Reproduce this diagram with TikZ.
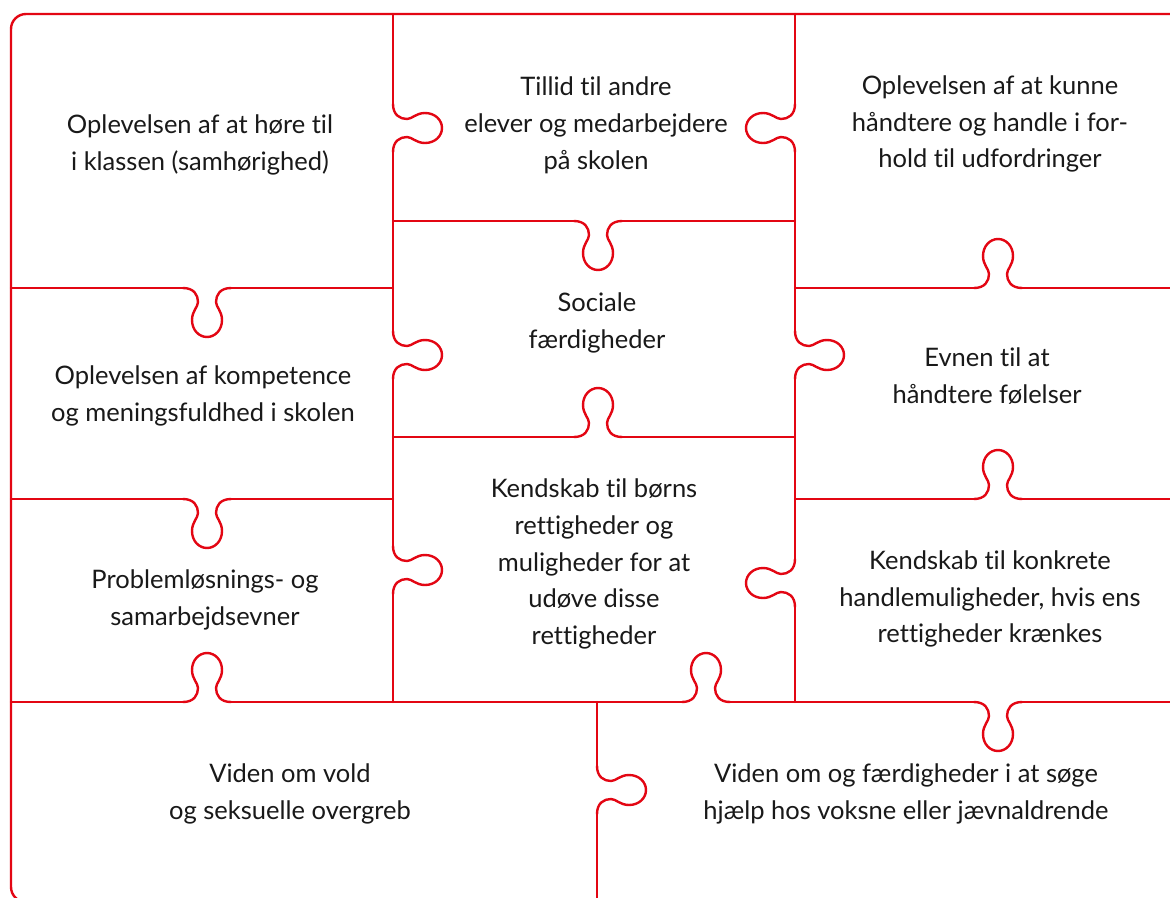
\documentclass[tikz,border=0pt]{standalone}
\usepackage{fontspec}
\setmainfont{Lato}[Ligatures={NoCommon,NoRequired}]
\definecolor{puzred}{RGB}{227,6,19}
\definecolor{txt}{RGB}{25,25,25}
\begin{document}
\begin{tikzpicture}[x=1pt,y=-1pt,
  puz/.style={draw=puzred,line width=2.4pt,line cap=round,line join=round},
  lbl/.style={align=center,text=txt,font=\fontsize{25.5}{36.8}\selectfont,inner sep=0pt},
  hknob/.pic={\draw[puz] (-24,0) .. controls (-13,0) and (-9,7) .. (-9,14) .. controls (-9,19) and (-15,23) .. (-15,32) .. controls (-15,42) and (-8,49) .. (0,49) .. controls (8,49) and (15,42) .. (15,32) .. controls (15,23) and (9,19) .. (9,14) .. controls (9,7) and (13,0) .. (24,0);},
  vknob/.pic={\draw[puz] (0,-24) .. controls (0,-13) and (7,-9) .. (14,-9) .. controls (19,-9) and (23,-15) .. (32,-15) .. controls (42,-15) and (49,-8) .. (49,0) .. controls (49,8) and (42,15) .. (32,15) .. controls (23,15) and (19,9) .. (14,9) .. controls (7,9) and (0,13) .. (0,24);}
]
\useasboundingbox (0,0) rectangle (1170,897);
\fill[white] (0,0) rectangle (1170,897);
% outer frame
\draw[puz,rounded corners=15pt] (11,14) rectangle (1200,902);
% vertical x=393
\draw[puz] (393,14) -- (393,104) (393,152) -- (393,331) (393,379) -- (393,546) (393,594) -- (393,702);
\pic at (393,128) {vknob};
\pic at (393,355) {vknob};
\pic at (393,570) {vknob};
% vertical x=795
\draw[puz] (795,14) -- (795,104) (795,152) -- (795,331) (795,379) -- (795,559) (795,607) -- (795,702);
\pic[xscale=-1] at (795,128) {vknob};
\pic at (795,355) {vknob};
\pic[xscale=-1] at (795,583) {vknob};
% vertical x=597 lower
\draw[puz] (597,702) -- (597,766) (597,814) -- (597,905);
\pic at (597,790) {vknob};
% horizontal y=221
\draw[puz] (393,221) -- (574,221) (622,221) -- (795,221);
\pic at (598,221) {hknob};
% y=437
\draw[puz] (393,437) -- (574,437) (622,437) -- (795,437);
\pic[yscale=-1] at (598,437) {hknob};
% y=288
\draw[puz] (11,288) -- (183,288) (231,288) -- (393,288);
\pic at (207,288) {hknob};
\draw[puz] (795,288) -- (974,288) (1022,288) -- (1200,288);
\pic[yscale=-1] at (998,288) {hknob};
% y=499
\draw[puz] (11,499) -- (183,499) (231,499) -- (393,499);
\pic at (207,499) {hknob};
\draw[puz] (795,499) -- (974,499) (1022,499) -- (1200,499);
\pic[yscale=-1] at (998,499) {hknob};
% y=702
\draw[puz] (11,702) -- (183,702) (231,702) -- (682,702) (730,702) -- (974,702) (1022,702) -- (1200,702);
\pic[yscale=-1] at (207,702) {hknob};
\pic[yscale=-1] at (706,702) {hknob};
\pic at (998,702) {hknob};
% texts
\node[lbl] (t1) at (200,145) {Oplevelsen af at høre til\\i klassen (samhørighed)};
\node[lbl] (t2) at (596,125) {Tillid til andre\\elever og medarbejdere\\på skolen};
\node[lbl] (t3) at (990,124) {Oplevelsen af at kunne\\håndtere og handle i for-\\hold til udfordringer};
\node[lbl] (t4) at (597,323) {Sociale\\færdigheder};
\node[lbl] (t5) at (203,396) {Oplevelsen af kompetence\\og meningsfuldhed i skolen};
\node[lbl] (t6) at (987,376) {Evnen til at\\håndtere følelser};
\node[lbl] (t7) at (594,564) {Kendskab til børns\\rettigheder og\\muligheder for at\\udøve disse\\rettigheder};
\node[lbl] (t8) at (205,600) {Problemløsnings- og\\samarbejdsevner};
\node[lbl] (t9) at (990,599) {Kendskab til konkrete\\handlemuligheder, hvis ens\\rettigheder krænkes};
\node[lbl] (t10) at (290,794) {Viden om vold\\og seksuelle overgreb};
\node[lbl] (t11) at (906,794) {Viden om og færdigheder i at søge\\hjælp hos voksne eller jævnaldrende};
\end{tikzpicture}
\end{document}
